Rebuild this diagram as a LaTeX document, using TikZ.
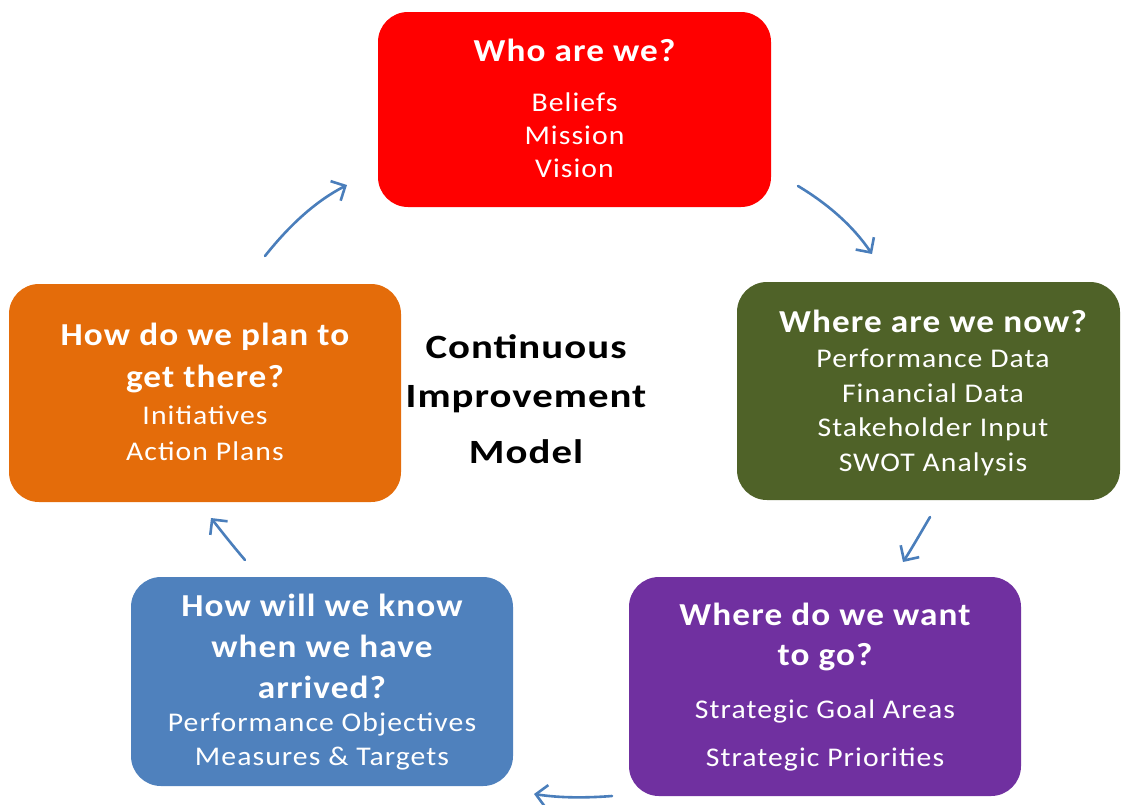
\documentclass[tikz,border=0pt]{standalone}
\usepackage{fontspec}
\setmainfont{Carlito}[FakeStretch=1.1]
\newfontfamily\midfont{Carlito}[FakeStretch=1.2]
\usetikzlibrary{arrows.meta}
\definecolor{cred}{HTML}{FF0000}
\definecolor{cgreen}{HTML}{4F6228}
\definecolor{cpurple}{HTML}{7030A0}
\definecolor{cblue}{HTML}{4F81BD}
\definecolor{corange}{HTML}{E46C0A}
\definecolor{carrow}{HTML}{4A7EBB}
\tikzset{
  box/.style={rounded corners=30pt, inner sep=0pt, draw=none},
  ttl/.style={text=white, font=\fontsize{32}{38}\selectfont\bfseries\addfontfeature{LetterSpace=3.5}, inner sep=0pt, anchor=center},
  bdy/.style={text=white, font=\fontsize{27}{33}\selectfont\addfontfeature{LetterSpace=4}, inner sep=0pt, anchor=center},
  mdl/.style={text=black, font=\midfont\fontsize{34}{40}\selectfont\bfseries\addfontfeature{LetterSpace=3}, inner sep=0pt, anchor=center},
  flow/.style={draw=carrow, line width=2.6pt, line cap=round, -{Straight Barb[length=11pt,width=22pt,line width=2.6pt]}}
}
\begin{document}
\begin{tikzpicture}[x=1pt,y=-1pt]
\useasboundingbox (0,0) rectangle (1121,804);
% boxes
\fill[cred, rounded corners=30pt] (378,12) rectangle (771,207);
\node[box, minimum width=393pt, minimum height=195pt] (red) at (574.5,109.5) {};
\fill[cgreen, rounded corners=30pt] (737,282) rectangle (1120,500);
\node[box, minimum width=383pt, minimum height=218pt] (green) at (928.5,391) {};
\fill[cpurple, rounded corners=30pt] (629,577) rectangle (1021,796);
\node[box, minimum width=392pt, minimum height=219pt] (purple) at (825,686.5) {};
\fill[cblue, rounded corners=30pt] (131,577) rectangle (513,786);
\node[box, minimum width=382pt, minimum height=209pt] (blue) at (322,681.5) {};
\fill[corange, rounded corners=30pt] (9,284) rectangle (401,502);
\node[box, minimum width=392pt, minimum height=218pt] (orange) at (205,393) {};
% red text
\node[ttl] (r1) at (574.5,50) {Who are we?};
\node[bdy] (r2) at (574.5,102) {Beliefs};
\node[bdy] (r3) at (574.5,135) {Mission};
\node[bdy] (r4) at (574.5,168) {Vision};
% green text
\node[ttl] (g1) at (933,321) {Where are we now?};
\node[bdy] (g2) at (933,358) {Performance Data};
\node[bdy] (g3) at (933,393) {Financial Data};
\node[bdy] (g4) at (933,429) {Stakeholder Input};
\node[bdy] (g5) at (933,464) {SWOT Analysis};
% purple text
\node[ttl] (p1) at (825,614) {Where do we want};
\node[ttl] (p2) at (825,657) {to go?};
\node[bdy] (p3) at (825,711) {Strategic Goal Areas};
\node[bdy] (p4) at (825,759) {Strategic Priorities};
% blue text
\node[ttl] (b1) at (322,605) {How will we know};
\node[ttl] (b2) at (322,646) {when we have};
\node[ttl] (b3) at (322,687) {arrived?};
\node[bdy] (b4) at (322,724) {Performance Objectives};
\node[bdy] (b5) at (322,759) {Measures \& Targets};
% orange text
\node[ttl] (o1) at (205,337) {How do we plan to};
\node[ttl] (o2) at (205,379) {get there?};
\node[bdy] (o3) at (205,415) {Initiatives};
\node[bdy] (o4) at (205,451) {Action Plans};
% middle
\node[mdl] (m1) at (526,347) {Continuous};
\node[mdl] (m2) at (526,399) {Improvement};
\node[mdl] (m3) at (526,452) {Model};
% arrow endpoints
\coordinate (a1s) at (265,256);
\coordinate (a1e) at (347,185);
\coordinate (a2s) at (798,186);
\coordinate (a2e) at (872,254);
\coordinate (a3s) at (930,517);
\coordinate (a3e) at (903,562);
\coordinate (a4s) at (612,796);
\coordinate (a4e) at (534,794);
\coordinate (a5s) at (245,560);
\coordinate (a5e) at (211,518);
\draw[flow] (a1s) .. controls (292,222) and (318,200) .. (a1e);
\draw[flow] (a2s) .. controls (828,204) and (853,226) .. (a2e);
\draw[flow] (a3s) .. controls (920,534) and (912,548) .. (a3e);
\draw[flow] (a4s) .. controls (586,798) and (560,798) .. (a4e);
\draw[flow] (a5s) .. controls (233,546) and (222,532) .. (a5e);
\end{tikzpicture}
\end{document}
